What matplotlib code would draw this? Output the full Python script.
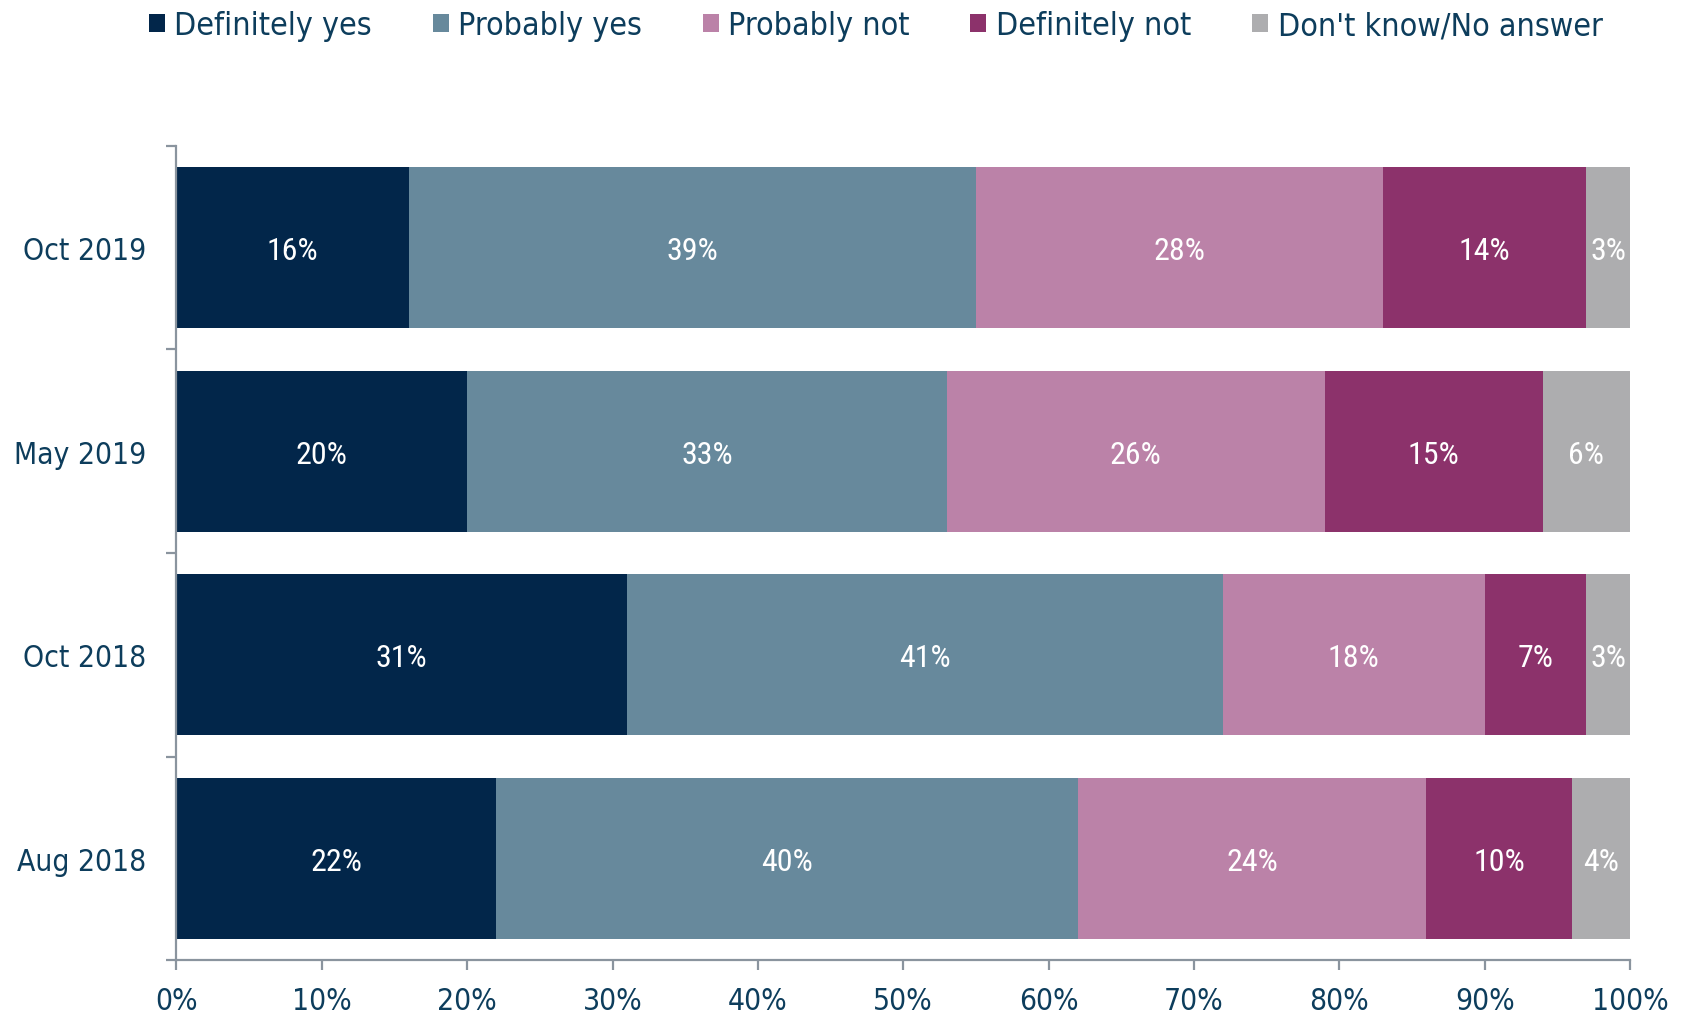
import matplotlib
matplotlib.use("Agg")
import matplotlib.pyplot as plt
from matplotlib.patches import Patch
import numpy as np

periods = ["Oct 2019", "May 2019", "Oct 2018", "Aug 2018"]
answers = ["Definitely yes", "Probably yes", "Probably not", "Definitely not", "Don't know/No answer"]
definitely_yes = [16, 20, 31, 22]
probably_yes = [39, 33, 41, 40]
probably_not = [28, 26, 18, 24]
definitely_not = [14, 15, 7, 10]
dont_know = [3, 6, 3, 4]
colors = ["#02264a", "#67899c", "#bb82a8", "#8c326b", "#adadaf"]

TEXT = "#0d3d5c"
SPINE = "#8a949e"
LABEL_FONT = ["Roboto Condensed", "Liberation Sans Narrow", "Lato", "DejaVu Sans"]

fig = plt.figure(figsize=(16.87, 10.2), dpi=100)
ax = fig.add_axes([0.1046, 0.0578, 0.8616, 0.7981])

series = [definitely_yes, probably_yes, probably_not, definitely_not, dont_know]
y = np.arange(len(periods))
left = np.zeros(len(periods))
for values, color in zip(series, colors):
    vals = np.array(values, dtype=float)
    bars = ax.barh(y, vals, left=left, height=0.79, color=color, edgecolor="none")
    for bar, v in zip(bars, vals):
        ax.text(bar.get_x() + bar.get_width() / 2, bar.get_y() + bar.get_height() / 2 + 0.015,
                f"{int(v)}%", ha="center", va="center", color="white",
                fontsize=23, family=LABEL_FONT)
    left += vals

ax.set_xlim(0, 100)
ax.set_ylim(len(periods) - 0.5, -0.5)
ax.set_xticks(np.arange(0, 101, 10))
ax.set_xticklabels([f"{v}%" for v in range(0, 101, 10)])
ax.set_yticks(y)
ax.set_yticklabels(periods)
ax.set_yticks(np.arange(-0.5, len(periods), 1), minor=True)

for side in ["top", "right"]:
    ax.spines[side].set_visible(False)
for side in ["left", "bottom"]:
    ax.spines[side].set_color(SPINE)
    ax.spines[side].set_linewidth(1.6)

ax.tick_params(axis="y", which="major", length=0, pad=22)
ax.tick_params(axis="y", which="minor", length=7, width=1.6, color=SPINE)
ax.tick_params(axis="x", length=7, width=1.6, color=SPINE, pad=12)
for lab in ax.get_xticklabels() + ax.get_yticklabels():
    lab.set_fontsize(21.5)
    lab.set_color(TEXT)
    lab.set_family("DejaVu Sans")
    lab.set_fontstretch("condensed")

handles = [Patch(facecolor=c, edgecolor="none") for c in colors]
leg = fig.legend(handles, answers, loc="upper center", bbox_to_anchor=(0.519, 1.017),
                 ncol=5, frameon=False, handlelength=0.5, handleheight=0.5,
                 handletextpad=0.3, columnspacing=1.9,
                 prop={"family": "DejaVu Sans", "stretch": "condensed", "size": 23})
for t in leg.get_texts():
    t.set_color(TEXT)

fig.savefig("out.png", dpi=100)
